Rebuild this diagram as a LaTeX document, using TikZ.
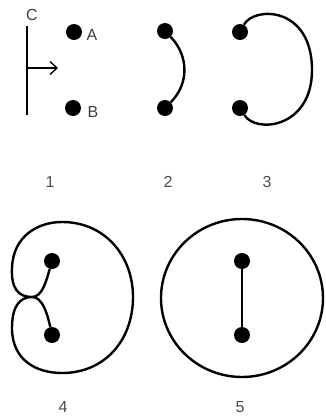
\documentclass[tikz,border=0pt]{standalone}
\usepackage{fontspec}
\setmainfont{Liberation Sans}
\usetikzlibrary{arrows.meta,shapes.geometric}
\begin{document}
\begin{tikzpicture}[x=1pt,y=-1pt,
  dot/.style={circle,fill=black,inner sep=0pt,minimum size=16pt},
  curve/.style={line width=2.4pt},
  lbl/.style={font=\fontsize{16}{18}\selectfont,text=black!75,inner sep=0pt},
  num/.style={font=\fontsize{16}{18}\selectfont,text=black!70,inner sep=0pt}]
\useasboundingbox (0,0) rectangle (325,416);
% panel 1
\coordinate (c1) at (27,26);
\coordinate (c2) at (27,115);
\coordinate (cm) at (27,68);
\coordinate (ar) at (58,68);
\draw[line width=2.4pt] (c1) -- (c2);
\node[lbl] (lc) at (32,15) {C};
\draw[line width=1.3pt,-{Straight Barb[length=7pt,width=13pt,line width=1.3pt]}] (cm) -- (ar);
\node[dot] (a1) at (74,32) {};
\node[dot] (b1) at (73,108) {};
\node[lbl] (la) at (92,35) {A};
\node[lbl] (lb) at (93,112) {B};
\node[num] (n1) at (50,182) {1};
% panel 2
\node[dot] (a2) at (165,31) {};
\node[dot] (b2) at (165,108) {};
\draw[curve] (a2) .. controls (189,56) and (189,84) .. (b2);
\node[num] (n2) at (168,182) {2};
% panel 3
\node[dot] (a3) at (240,32) {};
\node[dot] (b3) at (240,108) {};
\draw[curve] (a3) .. controls (254,6) and (312,6) .. (312,70) .. controls (312,128) and (256,134) .. (b3);
\node[num] (n3) at (267,182) {3};
% panel 4
\node[dot] (a4) at (52,261) {};
\node[dot] (b4) at (52,335) {};
\coordinate (p4) at (32,297);
\draw[curve] (a4) .. controls (46,282) and (42,297) .. (p4)
  .. controls (18,297) and (11,288) .. (12,268)
  .. controls (13,236) and (38,222) .. (62,222)
  .. controls (105,222) and (133,256) .. (133,297)
  .. controls (133,340) and (105,373) .. (62,373)
  .. controls (36,373) and (12,360) .. (12,328)
  .. controls (12,306) and (20,297) .. (p4)
  .. controls (42,297) and (47,312) .. (b4);
\node[num] (n4) at (63,407) {4};
% panel 5
\node[draw,curve,ellipse,minimum width=162pt,minimum height=158pt,inner sep=0pt] (e5) at (242,298) {};
\node[dot] (a5) at (242,261) {};
\node[dot] (b5) at (242,335) {};
\draw[line width=2pt] (a5) -- (b5);
\node[num] (n5) at (240,407) {5};
\end{tikzpicture}
\end{document}
